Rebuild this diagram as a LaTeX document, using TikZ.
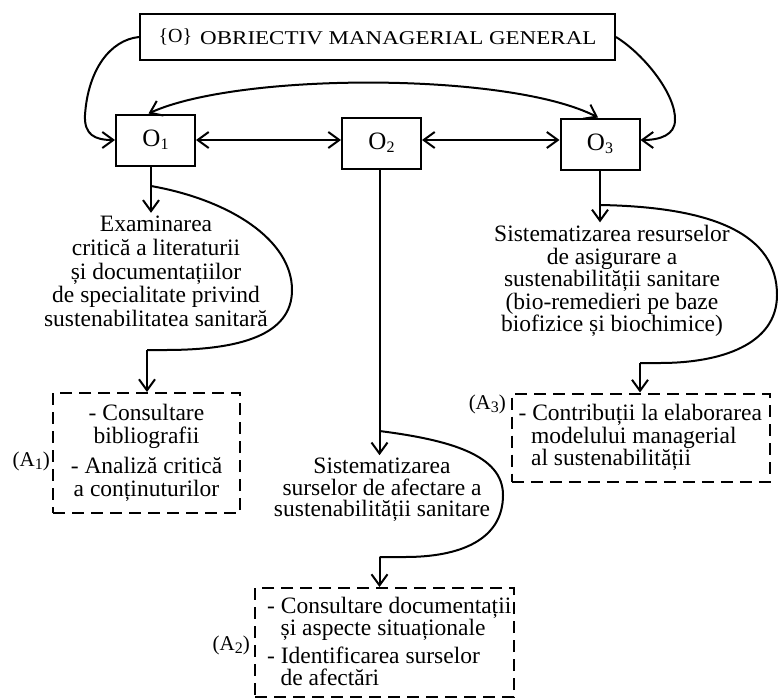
\documentclass[tikz,border=0pt]{standalone}
\usepackage{fontspec}
\setmainfont{Liberation Serif}
\usetikzlibrary{arrows.meta,positioning}
\newcommand{\idx}[1]{\raisebox{-3pt}{\fontsize{16}{16}\selectfont #1}}

\begin{document}
\begin{tikzpicture}[x=1pt,y=1pt]
		\tikzset{link/.style={line width=2pt},
			arr/.style={link,-{Straight Barb[length=11pt,width=16pt]}},
			darr/.style={link,{Straight Barb[length=11pt,width=16pt]}-{Straight Barb[length=11pt,width=16pt]}},
			objbox/.style={draw,link,minimum width=79pt,minimum height=51pt,inner sep=0pt,font=\fontsize{25}{25}\selectfont},
			txt/.style={align=center,inner sep=3pt},
			actbox/.style={draw,link,dash pattern=on 12pt off 7pt,inner sep=0pt},
			lbl/.style={anchor=base east,inner sep=0pt,font=\fontsize{21}{21}\selectfont}}
		\useasboundingbox (0,0) rectangle (778,-699);
		% objectives
		\node[draw,link,minimum width=475pt,minimum height=46pt,inner sep=0pt] (gen) at (377.5,-37)
			{{\fontsize{20}{20}\selectfont\raisebox{1.5pt}{\{O\}}}\hspace{8pt}\scalebox{1.18}[1]{\fontsize{19.5}{19.5}\selectfont OBRIECTIV MANAGERIAL GENERAL}};
		\node[objbox] (o1) at (155.5,-140) {O\idx{1}};
		\node[objbox] (o2) at (381.5,-143) {O\idx{2}};
		\node[objbox] (o3) at (600,-144) {O\idx{3}};
		\draw[arr] (gen.west) .. controls (110,-40) and (88,-70) .. (85,-115) .. controls (84,-135) and (95,-140) .. (o1.west);
		\draw[arr] (gen.east) .. controls (645,-55) and (676,-95) .. (675,-120) .. controls (675,-135) and (660,-140) .. (o3.east |- o1);
		\draw[darr] ([xshift=-7pt]o1.north) .. controls (240,-72) and (510,-72) .. ([xshift=-2pt]o3.north);
		\draw[darr] (o1.east) -- (o1 -| o2.west);
		\draw[darr] (o2.east |- o1) -- (o3.west |- o1);
		% directions
		\node[txt,font=\fontsize{23.5}{23.75}\selectfont] (t1) at (156,-271.4)
			{Examinarea\\critică a literaturii\\și documentațiilor\\de specialitate privind\\sustenabilitatea sanitară};
		\node[txt,font=\fontsize{23.5}{21.5}\selectfont] (t2) at (382,-490.2)
			{Sistematizarea\\surselor de afectare a\\sustenabilității sanitare};
		\node[txt,font=\fontsize{23.5}{22.5}\selectfont] (t3) at (612,-281.2)
			{Sistematizarea resurselor\\de asigurare a\\sustenabilității sanitare\\(bio-remedieri pe baze\\biofizice și biochimice)};
		% activities
		\node[actbox,minimum width=187pt,minimum height=120pt,align=center,font=\fontsize{23.5}{22.6}\selectfont] (a1) at (146.5,-453)
			{- Consultare\\bibliografii\\[8pt]- Analiză critică\\a conținuturilor};
		\node[actbox,minimum width=259pt,minimum height=109pt] (a2) at (384.5,-642.5) {};
		\node[txt,align=left,anchor=west,inner sep=0pt,font=\fontsize{23.5}{22}\selectfont] (a2t) at ([xshift=13pt,yshift=1.5pt]a2.west)
			{- Consultare documentații\\\hspace*{13.5pt}și aspecte situaționale\\[6pt]- Identificarea surselor\\\hspace*{13.5pt}de afectări};
		\node[actbox,minimum width=258pt,minimum height=88pt] (a3) at (640.8,-437.5) {};
		\node[txt,align=left,anchor=west,inner sep=0pt,font=\fontsize{23.5}{22.5}\selectfont] (a3t) at ([xshift=7.6pt]a3.west)
			{- Contribuții la elaborarea\\\hspace*{12.5pt}modelului managerial\\\hspace*{12.5pt}al sustenabilității};
		\node[lbl] (a1l) at ([xshift=-2pt,yshift=-13.7pt]a1.west) {(A\idx{1})};
		\node[lbl] (a2l) at ([xshift=-4pt,yshift=-7.5pt]a2.west) {(A\idx{2})};
		\node[lbl] (a3l) at ([xshift=-4.7pt,yshift=28pt]a3.west) {(A\idx{3})};
		% links to activities
		\coordinate (c1s) at (151,-186);
		\coordinate (c1e) at (147,-350);
		\coordinate (c2s) at (379.5,-431);
		\coordinate (c2e) at (379.5,-557);
		\coordinate (c3s) at (600,-205);
		\coordinate (c3e) at (640,-363);
		\draw[arr] ([xshift=-4.5pt]o1.south) -- ([xshift=-4.5pt]o1.south |- t1.north);
		\draw[arr] ([xshift=-2pt]o2.south) -- ([xshift=-2pt]o2.south |- t2.north);
		\draw[arr] (o3.south) -- (o3.south |- t3.north);
		\draw[link] (c1s) .. controls (230,-200) and (292,-240) .. (292,-290) .. controls (292,-335) and (240,-350) .. (165,-350) -- (c1e);
		\draw[link] (c2s) .. controls (450,-440) and (503,-455) .. (503,-495) .. controls (503,-540) and (460,-557) .. (405,-557) -- (c2e);
		\draw[link] (c3s) .. controls (715,-207) and (777,-235) .. (777,-295) .. controls (777,-345) and (720,-363) .. (660,-363) -- (c3e);
		\draw[arr] (c1e) -- (c1e |- a1.north);
		\draw[arr] (c2e) -- (c2e |- a2.north);
		\draw[arr] (c3e) -- (c3e |- a3.north);
	\end{tikzpicture}
\end{document}
